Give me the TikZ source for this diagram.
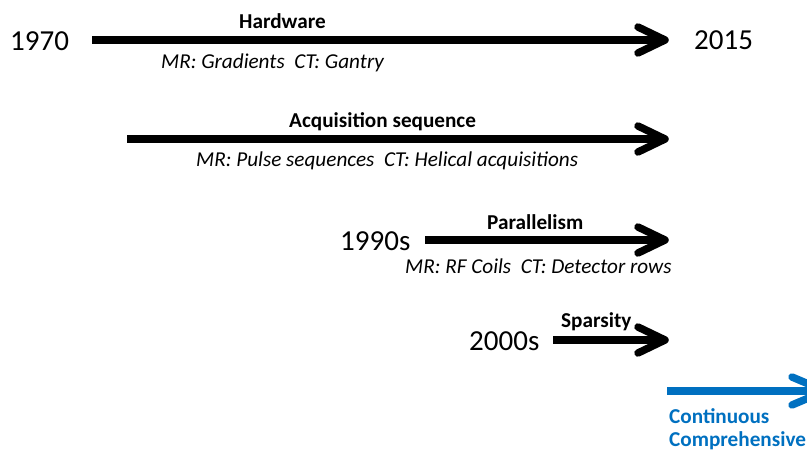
\documentclass[tikz,border=0pt]{standalone}
\usepackage{fontspec}
\setmainfont{Carlito}
\definecolor{arrblue}{RGB}{0,112,192}
\begin{document}
\begin{tikzpicture}[x=1pt,y=-1pt,
  shaft/.style={line width=7.5pt},
  chev/.style={line width=7.5pt,line cap=round,line join=round},
  year/.style={anchor=base west,inner sep=0pt,font=\fontsize{29}{31}\selectfont},
  topic/.style={anchor=base west,inner sep=0pt,font=\fontsize{21.2}{23}\selectfont\bfseries},
  detail/.style={anchor=base west,inner sep=0pt,font=\fontsize{21.2}{23}\selectfont\itshape},
  blue/.style={anchor=base west,inner sep=0pt,font=\fontsize{21.2}{23}\selectfont\bfseries,text=arrblue}]
\useasboundingbox (0,0) rectangle (807,450);
% row 1
\node[year] (y1970) at (10,50) {1970};
\node[year] (y2015) at (694,49) {2015};
\coordinate (s1) at (92,40);
\coordinate (t1) at (665,40);
\draw[shaft] (s1) -- (t1);
\draw[chev] ([shift={(-27,-13)}]t1) -- (t1) -- ([shift={(-27,13)}]t1);
\node[topic] (hw) at (239,28) {Hardware};
\node[detail] (d1) at (161,68) {MR: Gradients\ \ CT: Gantry};
% row 2
\coordinate (s2) at (127,139);
\coordinate (t2) at (665,139);
\draw[shaft] (s2) -- (t2);
\draw[chev] ([shift={(-27,-13)}]t2) -- (t2) -- ([shift={(-27,13)}]t2);
\node[topic] (acq) at (289,127) {Acquisition sequence};
\node[detail] (d2) at (196,166) {MR: Pulse sequences\ \ CT: Helical acquisitions};
% row 3
\node[year] (y1990) at (340,250) {1990s};
\coordinate (s3) at (425,240);
\coordinate (t3) at (665,240);
\draw[shaft] (s3) -- (t3);
\draw[chev] ([shift={(-27,-13)}]t3) -- (t3) -- ([shift={(-27,13)}]t3);
\node[topic] (par) at (487,229) {Parallelism};
\node[detail] (d3) at (405,273) {MR: RF Coils\ \ CT: Detector rows};
% row 4
\node[year] (y2000) at (469,350) {2000s};
\coordinate (s4) at (553,340);
\coordinate (t4) at (665,340);
\draw[shaft] (s4) -- (t4);
\draw[chev] ([shift={(-27,-13)}]t4) -- (t4) -- ([shift={(-27,13)}]t4);
\node[topic] (spa) at (561,327) {Sparsity};
% blue
\coordinate (s5) at (667,391);
\coordinate (t5) at (825,391);
\draw[shaft,arrblue] (s5) -- (t5);
\draw[chev,arrblue] ([shift={(-33,-14)}]t5) -- (t5) -- ([shift={(-33,14)}]t5);
\node[blue] (cont) at (669,423) {Continuous};
\node[blue] (comp) at (669,446) {Comprehensive};
\end{tikzpicture}
\end{document}
